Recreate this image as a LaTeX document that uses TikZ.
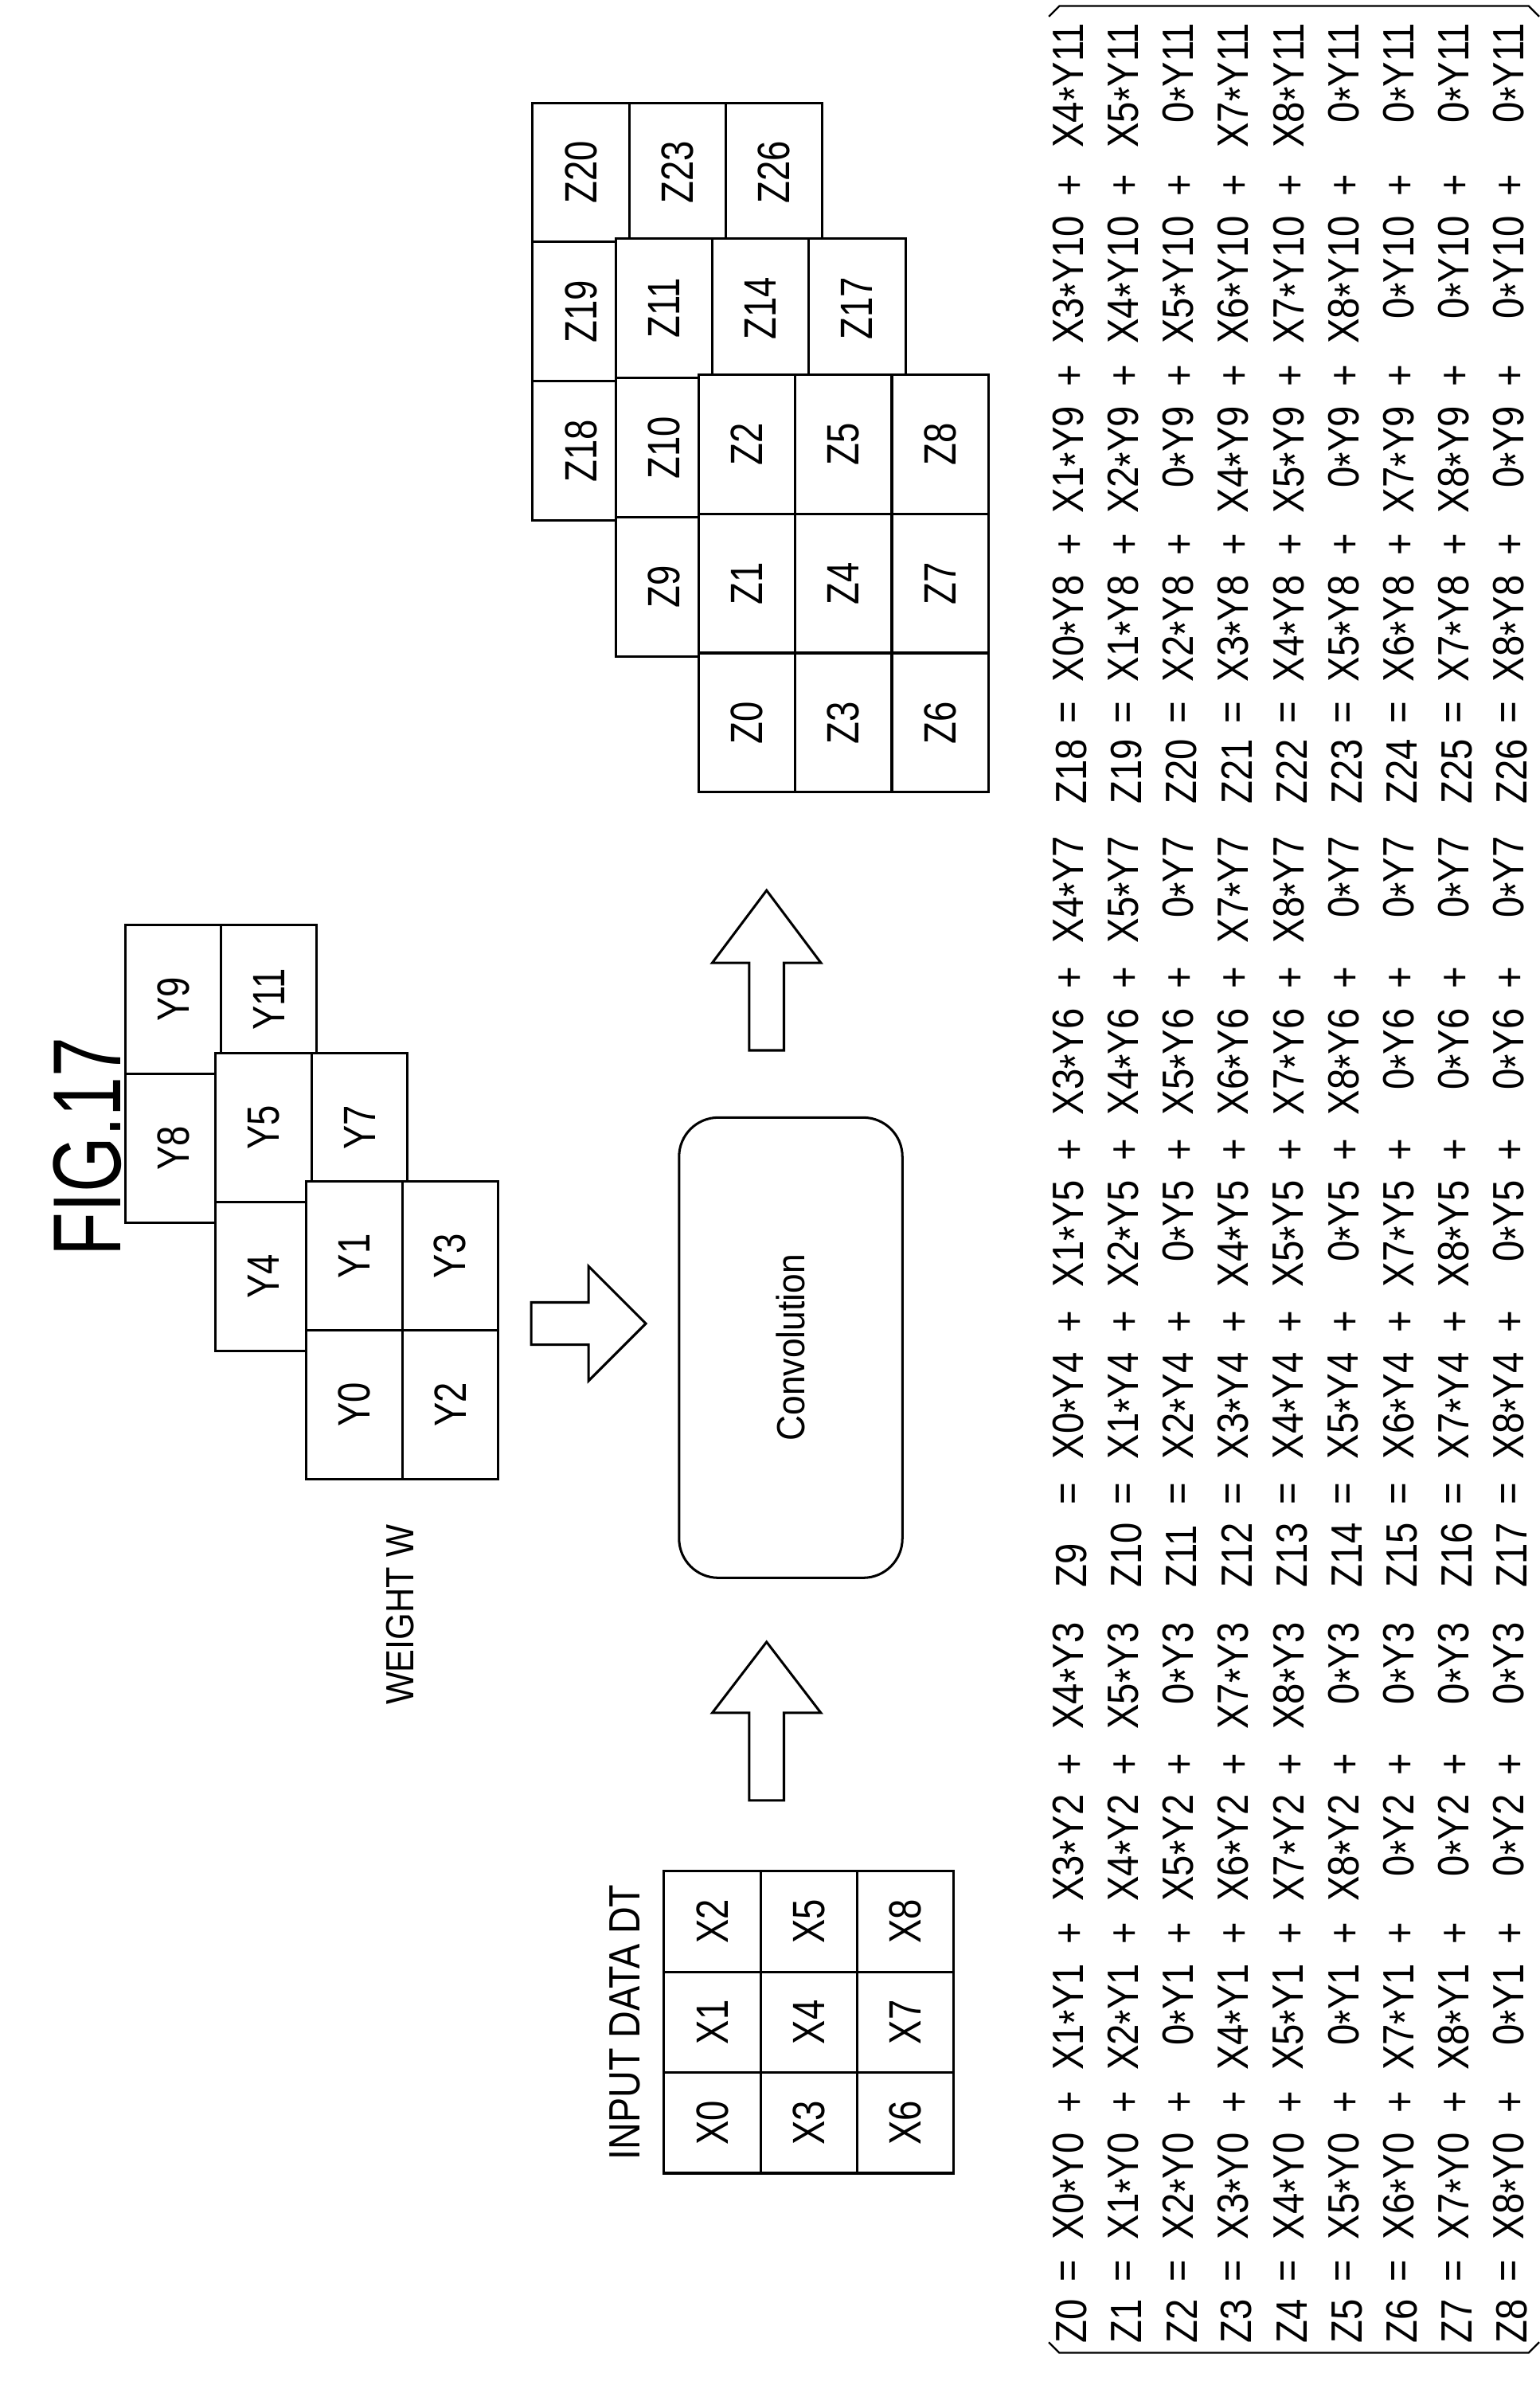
\documentclass[tikz,border=0pt]{standalone}
\usepackage{fontspec}
\setmainfont{Liberation Sans}
\usepackage{tikz}
\usepackage{graphicx}

% cell of a grid
\tikzset{
  cell/.style={draw, fill=white, line width=1.6pt, inner sep=0pt,
    font=\fontsize{30}{32}\selectfont},
  eq/.style={inner sep=0pt, font=\fontsize{29}{30}\selectfont},
  fat/.style={draw, line width=1.6pt, fill=white, line join=miter},
}
\newcommand{\nar}[2][0.86]{\scalebox{#1}[1]{#2}}
% one layer of a grid: left, top, cell width, cell height, columns, labels
\newcommand{\gridlayer}[6]{
  \foreach \lab [count=\i from 0] in {#6} {
    \pgfmathtruncatemacro{\col}{mod(\i,#5)}
    \pgfmathtruncatemacro{\row}{int(\i/#5)}
    \node[cell, minimum width=#3pt, minimum height=#4pt]
      (\lab) at ({#1+(\col+0.5)*#3}, {#2-(\row+0.5)*#4}) {\nar[0.8]{\lab}};
  }
}
\newcommand{\mul}{\raisebox{-0.3ex}{*}}

\begin{document}
\begin{tikzpicture}[x=1pt, y=1pt, rotate=90, transform shape]
  \path[use as bounding box] (0,0) rectangle (1583,1020);

  % Title
  \node[font=\fontsize{64}{66}\selectfont] (title) at (823,962) {\nar[0.74]{FIG.17}};

  % Input data
  \node[font=\fontsize{29}{30}\selectfont] (inlabel) at (243,606) {\nar[0.85]{INPUT DATA DT}};
  \gridlayer{143}{580}{66.7}{64}{3}{X0,X1,X2,X3,X4,X5,X6,X7,X8}

  % Weight
  \node[font=\fontsize{26}{30}\selectfont] (wlabel) at (513,755) {\nar[0.88]{WEIGHT W}};
  \gridlayer{773}{937}{98.5}{63.5}{2}{Y8,Y9,Y10,Y11}
  \gridlayer{688}{877}{98.5}{63.5}{2}{Y4,Y5,Y6,Y7}
  \gridlayer{603}{817}{98.5}{63.5}{2}{Y0,Y1,Y2,Y3}

  % Convolution
  \node[draw, line width=1.6pt, rounded corners=26pt, minimum width=305pt,
    minimum height=148pt, font=\fontsize{26}{30}\selectfont] (conv) at (690,496) {\nar[0.9]{Convolution}};

  % Block arrows
  \draw[fat] (390,500.5) -- (448,500.5) -- (448,476) -- (495,512) -- (448,548)
    -- (448,523.5) -- (390,523.5) -- cycle;
  \draw[fat] (887,500.5) -- (945,500.5) -- (945,476) -- (993,512) -- (945,548)
    -- (945,523.5) -- (887,523.5) -- cycle;
  \draw[fat] (692,668) -- (692,630) -- (668,630) -- (706,592) -- (744,630)
    -- (720,630) -- (720,668) -- cycle;

  % Output
  \gridlayer{1238}{667}{92.3}{64}{3}{Z18,Z19,Z20,Z21,Z22,Z23,Z24,Z25,Z26}
  \gridlayer{1148}{612}{92.3}{64}{3}{Z9,Z10,Z11,Z12,Z13,Z14,Z15,Z16,Z17}
  \gridlayer{1058}{557}{92.3}{64}{3}{Z0,Z1,Z2,Z3,Z4,Z5,Z6,Z7,Z8}

  % Equations
  \foreach \k/\s/\e/\ea/\eb/\ec/\ed in {0/30/48/140/252/364/478,
      1/531/62/156/270/384/498, 2/1050/61/152/264/390/518} {
    \foreach \r/\a/\b/\c/\d in {0/X0/X1/X3/X4, 1/X1/X2/X4/X5, 2/X2/0/X5/0,
        3/X3/X4/X6/X7, 4/X4/X5/X7/X8, 5/X5/0/X8/0, 6/X6/X7/0/0, 7/X7/X8/0/0, 8/X8/0/0/0} {
      \pgfmathtruncatemacro{\z}{9*\k+\r}
      \pgfmathtruncatemacro{\ya}{4*\k}
      \pgfmathtruncatemacro{\yb}{4*\k+1}
      \pgfmathtruncatemacro{\yc}{4*\k+2}
      \pgfmathtruncatemacro{\yd}{4*\k+3}
      \pgfmathsetmacro{\v}{310-36.5*\r}
      \node[eq, anchor=west] (e\z) at (\s,\v) {\nar{Z\z}};
      \node[eq] at (\s+\e,\v) {\nar{=}};
      \foreach \t/\y/\en in {\a/\ya/\ea, \b/\yb/\eb, \c/\yc/\ec, \d/\yd/\ed} {
        \node[eq, anchor=east] at (\s+\en,\v) {\nar{\t\mul Y\y}};
      }
      \foreach \en in {\ea,\eb,\ec} {
        \node[eq] at (\s+\en+20,\v) {\nar{+}};
      }
    }
  }

  % Brackets
  \draw[line width=1.2pt] (31,325) -- (24,318) -- (24,7) -- (31,0);
  \draw[line width=1.2pt] (1572,325) -- (1579,318) -- (1579,7) -- (1572,0);
\end{tikzpicture}
\end{document}
